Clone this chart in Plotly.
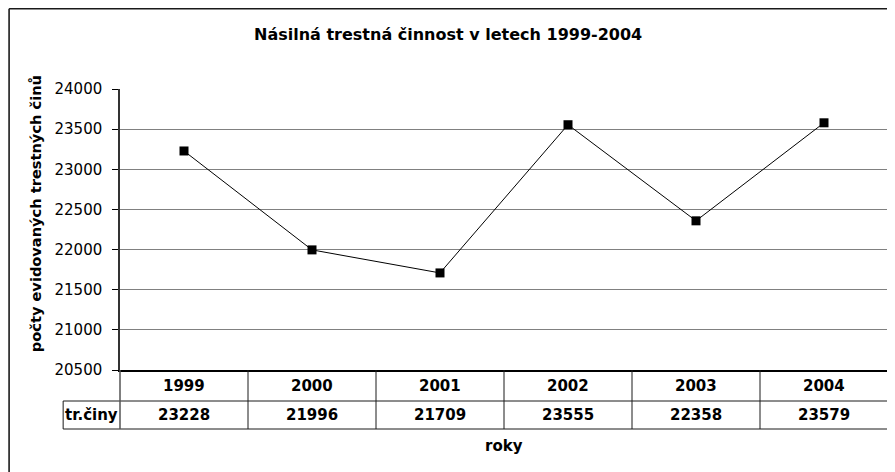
import plotly.graph_objects as go

years = ["1999", "2000", "2001", "2002", "2003", "2004"]
crimes = [23228, 21996, 21709, 23555, 22358, 23579]
series_name = "tr.činy"
title_text = "Násilná trestná činnost v letech 1999-2004"
y_title = "počty evidovaných trestných činů"
x_title = "roky"
y_ticks = [20500, 21000, 21500, 22000, 22500, 23000, 23500, 24000]

# page body has an 8px margin: figure coords = reference page coords - 8
OFF = 8
W, H = 887, 464
L, R, T, B = 112, 5, 81, 102
PW = W - L - R
PH = H - T - B


def px(x):  # reference page x -> paper
    return (x - OFF - L) / PW


def py(y):  # reference page y -> paper
    return (H - B - (y - OFF)) / PH


FONT = "DejaVu Sans"
fig = go.Figure()
fig.add_trace(go.Scatter(
    x=list(range(len(years))), y=crimes, mode="lines+markers", name=series_name,
    line=dict(color="black", width=1),
    marker=dict(symbol="square", size=9, color="black"),
    showlegend=False, cliponaxis=False,
))

shapes = []
line_col = "#1a1a1a"
# outer chart border (top + left visible)
shapes.append(dict(type="line", xref="paper", yref="paper", x0=px(8.8), x1=px(905), y0=py(8.8), y1=py(8.8),
                   line=dict(color=line_col, width=1.6)))
shapes.append(dict(type="line", xref="paper", yref="paper", x0=px(8.8), x1=px(8.8), y0=py(8.8), y1=py(490),
                   line=dict(color=line_col, width=1.6)))
# data table
row1_bot = py(401)
row2_bot = py(429)
shapes.append(dict(type="line", xref="paper", yref="paper", x0=px(63), x1=1, y0=row1_bot, y1=row1_bot,
                   line=dict(color=line_col, width=1)))
shapes.append(dict(type="line", xref="paper", yref="paper", x0=px(63), x1=1, y0=row2_bot, y1=row2_bot,
                   line=dict(color=line_col, width=1)))
shapes.append(dict(type="line", xref="paper", yref="paper", x0=px(63), x1=px(63), y0=row1_bot, y1=row2_bot,
                   line=dict(color=line_col, width=1)))
shapes.append(dict(type="line", xref="paper", yref="paper", x0=0, x1=0, y0=0, y1=row2_bot,
                   line=dict(color="#555555", width=1.5)))
shapes.append(dict(type="line", xref="paper", yref="paper", x0=1, x1=1, y0=0, y1=row2_bot,
                   line=dict(color="#555555", width=1.5)))
for i in range(1, len(years)):
    shapes.append(dict(type="line", xref="x", yref="paper", x0=i - 0.5, x1=i - 0.5, y0=0, y1=row2_bot,
                       line=dict(color=line_col, width=1)))

annotations = []
annotations.append(dict(text="<b>" + title_text + "</b>", xref="paper", yref="paper", x=px(449), y=py(34),
                        showarrow=False, xanchor="center", yanchor="middle",
                        font=dict(family=FONT, size=16, color="black")))
annotations.append(dict(text="<b>" + y_title + "</b>", xref="paper", yref="paper", x=px(35), y=py(214),
                        showarrow=False, xanchor="center", yanchor="middle", textangle=-90,
                        font=dict(family=FONT, size=14.6, color="black")))
annotations.append(dict(text="<b>" + x_title + "</b>", xref="paper", yref="paper", x=0.5, y=py(446),
                        showarrow=False, xanchor="center", yanchor="middle",
                        font=dict(family=FONT, size=15, color="black")))
annotations.append(dict(text="<b>" + series_name + "</b>", xref="paper", yref="paper", x=px(91.5), y=py(415),
                        showarrow=False, xanchor="center", yanchor="middle",
                        font=dict(family=FONT, size=15, color="black")))
for i, (yr, v) in enumerate(zip(years, crimes)):
    annotations.append(dict(text="<b>" + yr + "</b>", xref="x", yref="paper", x=i, y=py(385.5),
                            showarrow=False, xanchor="center", yanchor="middle",
                            font=dict(family=FONT, size=15, color="black")))
    annotations.append(dict(text="<b>" + str(v) + "</b>", xref="x", yref="paper", x=i, y=py(415),
                            showarrow=False, xanchor="center", yanchor="middle",
                            font=dict(family=FONT, size=15, color="black")))

fig.update_layout(
    width=W, height=H,
    margin=dict(l=L, r=R, t=T, b=B, pad=0),
    paper_bgcolor="white", plot_bgcolor="white",
    shapes=shapes, annotations=annotations,
    xaxis=dict(range=[-0.5, len(years) - 0.5], showticklabels=False, ticks="",
               showgrid=False, zeroline=False, showline=True, linecolor="black", linewidth=1.5,
               mirror=False, fixedrange=True),
    yaxis=dict(range=[20500, 24000], tickvals=y_ticks, ticktext=[str(t) for t in y_ticks],
               ticks="outside", ticklen=6, tickcolor="black", tickwidth=1,
               showgrid=True, gridcolor="#808080", gridwidth=1, zeroline=False,
               showline=True, linecolor="#333333", linewidth=1.5, mirror=True,
               tickfont=dict(family=FONT, size=15, color="black"), ticklabelstandoff=7,
               fixedrange=True),
)

fig.write_html("out.html")
